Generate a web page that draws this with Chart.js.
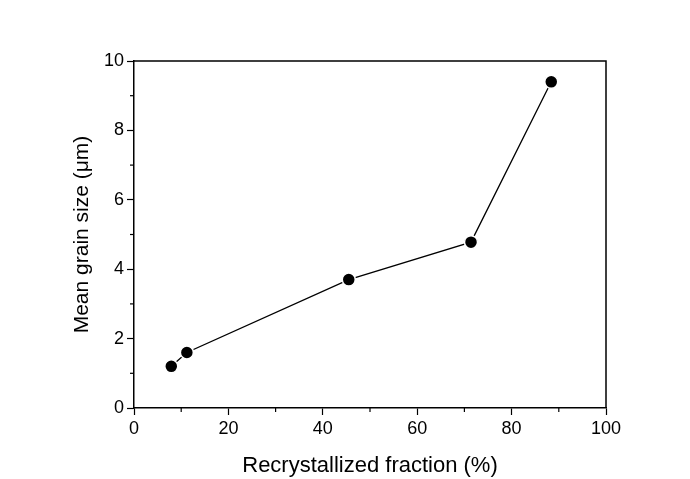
<!DOCTYPE html>
<html>
<head>
<meta charset="utf-8">
<script src="https://cdn.jsdelivr.net/npm/chart.js@4.4.1/dist/chart.umd.min.js"></script>
<style>
  html, body { margin: 0; padding: 0; background: #fff; }
  #wrap { width: 690px; height: 479px; }
</style>
</head>
<body>
<div id="wrap"><canvas id="myChart" width="690" height="479"></canvas></div>
<script>
// Data
const fraction = [7.9, 11.2, 45.5, 71.4, 88.4];   // Recrystallized fraction (%)
const grainSize = [1.2, 1.6, 3.7, 4.78, 9.4];     // Mean grain size (µm)
const xTicks = [0, 20, 40, 60, 80, 100];
const yTicks = [0, 2, 4, 6, 8, 10];

const points = fraction.map((x, i) => ({ x: x, y: grainSize[i] }));

// Minor ticks plus top/right frame lines
const framePlugin = {
    id: 'frame',
    afterDraw(chart) {
        const c = chart.ctx;
        const a = chart.chartArea;
        const xs = chart.scales.x;
        const ys = chart.scales.y;
        c.save();
        c.strokeStyle = '#000';
        c.lineWidth = 1.5;
        c.beginPath();
        c.moveTo(a.left, a.top);
        c.lineTo(a.right, a.top);
        c.lineTo(a.right, a.bottom);
        c.stroke();
        c.lineWidth = 1.2;
        for (let v = 10; v < 100; v += 20) {
            const px = xs.getPixelForValue(v);
            c.beginPath();
            c.moveTo(px, a.bottom);
            c.lineTo(px, a.bottom + 4);
            c.stroke();
        }
        for (let v = 1; v < 10; v += 2) {
            const py = ys.getPixelForValue(v);
            c.beginPath();
            c.moveTo(a.left, py);
            c.lineTo(a.left - 4, py);
            c.stroke();
        }
        c.restore();
    }
};

const ctx = document.getElementById('myChart').getContext('2d');
const myChart = new Chart(ctx, {
    type: 'scatter',
    data: {
        datasets: [{
            data: points,
            showLine: true,
            borderColor: '#000',
            borderWidth: 1.3,
            backgroundColor: '#000',
            pointBackgroundColor: '#000',
            pointBorderColor: '#fff',
            pointBorderWidth: 1.5,
            pointRadius: 6.5
        }]
    },
    options: {
        responsive: false,
        animation: false,
        layout: { padding: { top: 61, right: 84, left: 0, bottom: 0 } },
        plugins: { legend: { display: false }, tooltip: { enabled: false } },
        scales: {
            x: {
                type: 'linear',
                min: 0,
                max: 100,
                afterBuildTicks: s => { s.ticks = xTicks.map(v => ({ value: v })); },
                afterFit: s => { s.height = 71; },
                grid: { drawOnChartArea: false, tickLength: 7, tickColor: '#000', tickWidth: 1.2 },
                border: { color: '#000', width: 1.5 },
                ticks: { color: '#000', padding: 3, maxRotation: 0, font: { family: 'Liberation Sans', size: 18 } },
                title: {
                    display: true,
                    text: 'Recrystallized fraction (%)',
                    color: '#000',
                    padding: { top: 6, bottom: 0 },
                    font: { family: 'Liberation Sans', size: 22 }
                }
            },
            y: {
                type: 'linear',
                min: 0,
                max: 10,
                afterBuildTicks: s => { s.ticks = yTicks.map(v => ({ value: v })); },
                afterFit: s => { s.width = 134; },
                grid: { drawOnChartArea: false, tickLength: 7, tickColor: '#000', tickWidth: 1.2 },
                border: { color: '#000', width: 1.5 },
                ticks: { color: '#000', padding: 3, font: { family: 'Liberation Sans', size: 18 } },
                title: {
                    display: true,
                    text: 'Mean grain size (\u03bcm)',
                    color: '#000',
                    padding: { top: 70, bottom: 0 },
                    font: { family: 'Liberation Sans', size: 21 }
                }
            }
        }
    },
    plugins: [framePlugin]
});
</script>
</body>
</html>
